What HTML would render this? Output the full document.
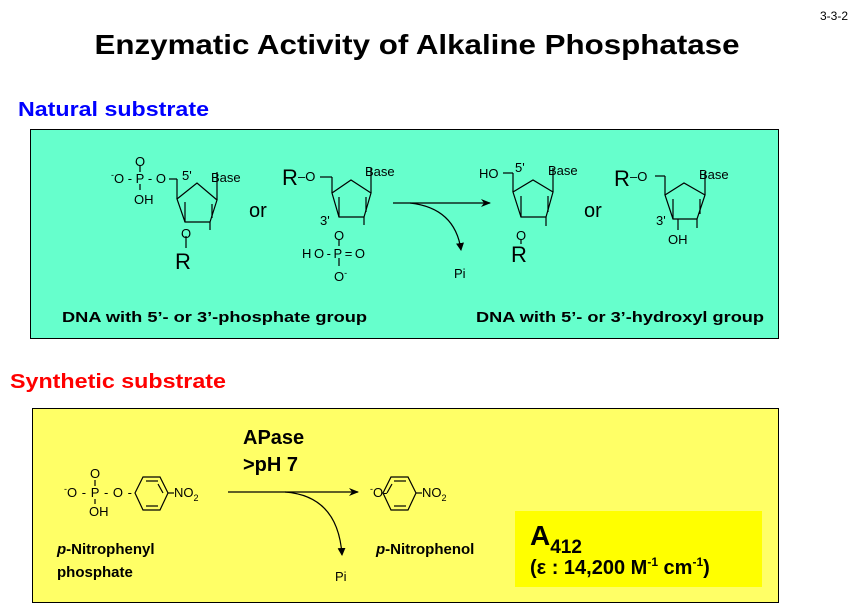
<!DOCTYPE html>
<html><head><meta charset="utf-8"><style>
html,body{margin:0;padding:0;background:#fff;}
svg{display:block;font-family:"Liberation Sans",Arial,sans-serif;}
</style></head><body>
<svg width="867" height="605" viewBox="0 0 867 605" xmlns="http://www.w3.org/2000/svg">
<defs>
<marker id="ah" markerWidth="10" markerHeight="8" refX="9" refY="4" orient="auto" markerUnits="userSpaceOnUse"><path d="M0,0 L10,4 L0,8 L3,4 z" fill="#000"/></marker>
<marker id="ahs" markerWidth="8" markerHeight="8" refX="7" refY="4" orient="auto" markerUnits="userSpaceOnUse"><path d="M0,0 L8,4 L0,8 z" fill="#000"/></marker>
</defs>
<text x="820" y="20" font-size="12">3-3-2</text>
<text x="417" y="54" font-size="28" font-weight="bold" text-anchor="middle" textLength="645" lengthAdjust="spacingAndGlyphs">Enzymatic Activity of Alkaline Phosphatase</text>
<text x="18" y="116" font-size="20" font-weight="bold" fill="#0000ff" textLength="191" lengthAdjust="spacingAndGlyphs">Natural substrate</text>
<rect x="30.5" y="129.5" width="748" height="209" fill="#66ffcc" stroke="#000"/>
<text x="10" y="388" font-size="20" font-weight="bold" fill="#ff0000" textLength="216" lengthAdjust="spacingAndGlyphs">Synthetic substrate</text>
<rect x="32.5" y="408.5" width="746" height="194" fill="#ffff66" stroke="#000"/>
<rect x="515" y="511" width="247" height="76" fill="#ffff00"/>

<g stroke="#000" stroke-width="1.2" fill="none">
<!-- mol1 -->
<polyline points="177,179 177,199"/><line x1="169" y1="179" x2="177" y2="179"/>
<polygon points="177,199 197,183 217,200 210,222 185,222"/>
<line x1="217" y1="200" x2="217" y2="172"/>
<line x1="185" y1="202" x2="185" y2="222"/><line x1="210" y1="222" x2="210" y2="230"/><line x1="212" y1="204" x2="212" y2="218"/>
<line x1="186" y1="236" x2="186" y2="248"/>
<line x1="140" y1="166" x2="140" y2="172"/><line x1="140" y1="184" x2="140" y2="190"/>
<!-- mol2 -->
<line x1="320" y1="177" x2="332" y2="177"/><line x1="332" y1="177" x2="332" y2="193"/>
<polygon points="332,193 351,180 371,193 364,217 339,217"/>
<line x1="371" y1="193" x2="371" y2="168"/><line x1="339" y1="197" x2="339" y2="217"/><line x1="364" y1="217" x2="364" y2="225"/><line x1="366" y1="197" x2="366" y2="212"/>
<line x1="339" y1="240" x2="339" y2="246"/><line x1="339" y1="258" x2="339" y2="266"/>
<!-- mol3 -->
<line x1="503" y1="173" x2="513" y2="173"/><line x1="513" y1="173" x2="513" y2="192"/>
<polygon points="513,192 533,180 553,192 546,217 521,217"/>
<line x1="553" y1="192" x2="553" y2="168"/><line x1="521" y1="196" x2="521" y2="217"/><line x1="546" y1="217" x2="546" y2="226"/><line x1="548" y1="196" x2="548" y2="212"/>
<line x1="521" y1="240" x2="521" y2="244"/>
<!-- mol4 -->
<line x1="655" y1="176" x2="665" y2="176"/><line x1="665" y1="176" x2="665" y2="195"/>
<polygon points="665,195 684,183 705,195 697,219 673,219"/>
<line x1="705" y1="195" x2="705" y2="172"/><line x1="673" y1="199" x2="673" y2="219"/><line x1="697" y1="219" x2="697" y2="228"/><line x1="700" y1="199" x2="700" y2="214"/>
<line x1="678" y1="219" x2="678" y2="230"/>
<!-- arrows -->
<line x1="393" y1="203" x2="490" y2="203" marker-end="url(#ah)"/>
<path d="M410,203 Q455,208 461,250" marker-end="url(#ahs)"/>
<!-- synthetic -->
<polygon points="135,493 143,477 160,477 168,493 160,510 143,510"/>
<line x1="146" y1="481" x2="158" y2="481"/><line x1="146" y1="506" x2="158" y2="506"/><line x1="163" y1="493" x2="158" y2="484"/>
<line x1="168" y1="493" x2="174" y2="493"/>
<line x1="95" y1="480" x2="95" y2="486"/><line x1="95" y1="499" x2="95" y2="504"/>
<polygon points="383,493 391,477 408,477 416,493 408,510 391,510"/>
<line x1="394" y1="481" x2="406" y2="481"/><line x1="394" y1="506" x2="406" y2="506"/><line x1="387" y1="493" x2="392" y2="484"/>
<line x1="416" y1="493" x2="422" y2="493"/>
<line x1="228" y1="492" x2="358" y2="492" marker-end="url(#ah)"/>
<path d="M285,492 Q338,496 342,555" marker-end="url(#ahs)"/>
</g>

<g font-size="13">
<text x="111" y="183"><tspan font-size="9" dy="-5">-</tspan><tspan dy="5" textLength="52" lengthAdjust="spacing">O-P-O</tspan></text>
<text x="135" y="166">O</text>
<text x="134" y="204">OH</text>
<text x="182" y="180">5'</text>
<text x="211" y="182">Base</text>
<text x="181" y="238">O</text>
<text x="175" y="269" font-size="22">R</text>
<text x="249" y="217" font-size="20">or</text>
<text x="282" y="185" font-size="22">R</text>
<text x="298" y="181">–O</text>
<text x="365" y="176">Base</text>
<text x="320" y="225">3'</text>
<text x="334" y="240">O</text>
<text x="302" y="258" textLength="63" lengthAdjust="spacing">HO-P=O</text>
<text x="334" y="281">O<tspan font-size="9" dy="-5">-</tspan></text>
<text x="454" y="278">Pi</text>
<text x="479" y="178">HO</text>
<text x="515" y="172">5'</text>
<text x="548" y="175">Base</text>
<text x="516" y="240">O</text>
<text x="511" y="262" font-size="22">R</text>
<text x="584" y="217" font-size="20">or</text>
<text x="614" y="186" font-size="22">R</text>
<text x="630" y="181">–O</text>
<text x="699" y="179">Base</text>
<text x="656" y="225">3'</text>
<text x="668" y="244">OH</text>
</g>
<text x="62" y="322" font-size="15" font-weight="bold" textLength="305" lengthAdjust="spacingAndGlyphs">DNA with 5’- or 3’-phosphate group</text>
<text x="476" y="322" font-size="15" font-weight="bold" textLength="288" lengthAdjust="spacingAndGlyphs">DNA with 5’- or 3’-hydroxyl group</text>

<g font-size="13">
<text x="64" y="497"><tspan font-size="9" dy="-5">-</tspan><tspan dy="5" textLength="65" lengthAdjust="spacing">O-P-O-</tspan></text>
<text x="90" y="478">O</text>
<text x="89" y="516">OH</text>
<text x="174" y="497">NO<tspan font-size="9" dy="4">2</tspan></text>
<text x="370" y="497"><tspan font-size="9" dy="-5">-</tspan><tspan dy="5">O-</tspan></text>
<text x="422" y="497">NO<tspan font-size="9" dy="4">2</tspan></text>
<text x="335" y="581">Pi</text>
</g>
<text x="243" y="444" font-size="20" font-weight="bold">APase</text>
<text x="243" y="471" font-size="20" font-weight="bold">&gt;pH 7</text>
<text x="57" y="554" font-size="15" font-weight="bold"><tspan font-style="italic">p</tspan>-Nitrophenyl</text>
<text x="57" y="577" font-size="15" font-weight="bold">phosphate</text>
<text x="376" y="554" font-size="15" font-weight="bold"><tspan font-style="italic">p</tspan>-Nitrophenol</text>
<text x="530" y="545" font-size="28" font-weight="bold">A<tspan font-size="19" dy="8">412</tspan></text>
<text x="530" y="574" font-size="20" font-weight="bold">(ε : 14,200 M<tspan font-size="12" dy="-8">-1</tspan><tspan dy="8"> cm</tspan><tspan font-size="12" dy="-8">-1</tspan><tspan dy="8">)</tspan></text>
</svg>
</body></html>
